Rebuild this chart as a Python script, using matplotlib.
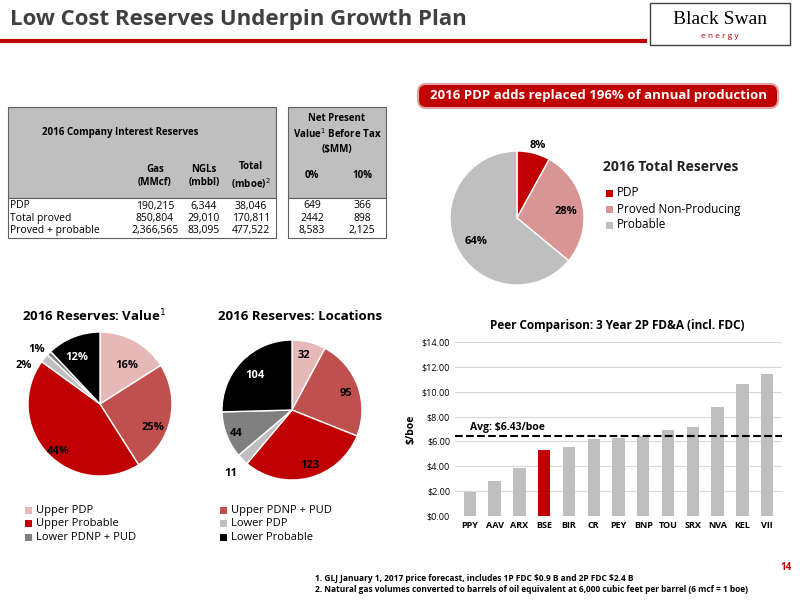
import matplotlib
matplotlib.use("Agg")
import matplotlib.pyplot as plt
from matplotlib.patches import Rectangle, FancyBboxPatch

plt.rcParams['font.family'] = ['Open Sans', 'DejaVu Sans']

total_labels = ["PDP", "Proved Non-Producing", "Probable"]
total_vals = [8, 28, 64]
total_colors = ["#C00000", "#D99594", "#BFBFBF"]

seg_labels = ["Upper PDP", "Upper PDNP + PUD", "Upper Probable", "Lower PDP", "Lower PDNP + PUD", "Lower Probable"]
seg_colors = ["#E6B9B8", "#C0504D", "#C00000", "#BFBFBF", "#808080", "#000000"]
value_vals = [16, 25, 44, 2, 1, 12]
loc_vals = [32, 95, 123, 11, 44, 104]

peers = ["PPY", "AAV", "ARX", "BSE", "BIR", "CR", "PEY", "BNP", "TOU", "SRX", "NVA", "KEL", "VII"]
fda = [1.9, 2.8, 3.9, 5.35, 5.55, 6.2, 6.3, 6.45, 6.95, 7.15, 8.75, 10.6, 11.45]
avg = 6.43

row_names = ["PDP", "Total proved", "Proved + probable"]
gas = ["190,215", "850,804", "2,366,565"]
ngl = ["6,344", "29,010", "83,095"]
tot = ["38,046", "170,811", "477,522"]
npv0 = ["649", "2442", "8,583"]
npv10 = ["366", "898", "2,125"]

W, H = 800, 600
fig = plt.figure(figsize=(8, 6), dpi=100)

def pie_px(cx, cy, r):
    return fig.add_axes([(cx - r) / W, 1 - (cy + r) / H, 2 * r / W, 2 * r / H])

def ax_px(x, y, w, h):
    return fig.add_axes([x / W, 1 - (y + h) / H, w / W, h / H])

ov = fig.add_axes([0, 0, 1, 1], zorder=10)
ov.patch.set_alpha(0)
ov.set_xlim(0, W); ov.set_ylim(H, 0); ov.axis("off")

# Title
ov.text(10, 20, "Low Cost Reserves Underpin Growth Plan", fontsize=16, fontweight="bold", color="#404040", va="center")
ov.plot([0, 645], [41, 41], color="#C00000", lw=3)
ov.add_patch(Rectangle((650, 3), 140, 42, fill=False, ec="#404040", lw=1))
ov.text(720, 19, "Black Swan", fontsize=14, ha="center", va="center", family=["Liberation Serif"])
ov.text(720, 36, "e n e r g y", fontsize=6, ha="center", va="center", color="#C00000")

# Banner
ov.add_patch(FancyBboxPatch((418, 84), 360, 24, boxstyle="round,pad=0,rounding_size=8", fc="#C00000", ec="#E0A0A0", lw=1.5))
ov.text(598, 96, "2016 PDP adds replaced 196% of annual production", color="white", fontweight="bold", fontsize=9.5, ha="center", va="center")

# Table
ov.add_patch(Rectangle((8, 107), 268, 91, fc="#BFBFBF", ec="#606060", lw=0.8))
ov.add_patch(Rectangle((288, 107), 98, 91, fc="#BFBFBF", ec="#606060", lw=0.8))
ov.add_patch(Rectangle((8, 198), 268, 40, fc="white", ec="#606060", lw=0.8))
ov.add_patch(Rectangle((288, 198), 98, 40, fc="white", ec="#606060", lw=0.8))
ov.text(120, 132, "2016 Company Interest Reserves", fontsize=7, fontweight="bold", ha="center", va="center")
ov.text(337, 134, "Net Present\nValue$^1$ Before Tax\n(\\$MM)", fontsize=7, fontweight="bold", ha="center", va="center", linespacing=1.3)
for x, t in [(155, "Gas\n(MMcf)"), (204, "NGLs\n(mbbl)"), (251, "Total\n(mboe)$^2$")]:
    ov.text(x, 176, t, fontsize=7, fontweight="bold", ha="center", va="center", linespacing=1.3)
ov.text(312, 176, "0%", fontsize=7, fontweight="bold", ha="center", va="center")
ov.text(362, 176, "10%", fontsize=7, fontweight="bold", ha="center", va="center")
for i in range(3):
    y = 206 + i * 12.5
    ov.text(10, y, row_names[i], fontsize=7.5, va="center")
    ov.text(155, y, gas[i], fontsize=7.5, ha="center", va="center")
    ov.text(204, y, ngl[i], fontsize=7.5, ha="center", va="center")
    ov.text(251, y, tot[i], fontsize=7.5, ha="center", va="center")
    ov.text(312, y, npv0[i], fontsize=7.5, ha="center", va="center")
    ov.text(362, y, npv10[i], fontsize=7.5, ha="center", va="center")

# Total reserves pie
a1 = pie_px(517, 218, 67)
a1.pie(total_vals, colors=total_colors, startangle=90, counterclock=False, radius=1,
       wedgeprops=dict(edgecolor="white", linewidth=1))
a1.set_xlim(-1, 1); a1.set_ylim(-1, 1)
ov.text(538, 146, "8%", fontsize=8, fontweight="bold", ha="center", va="center")
ov.text(566, 211, "28%", fontsize=8, fontweight="bold", ha="center", va="center")
ov.text(476, 241, "64%", fontsize=8, fontweight="bold", ha="center", va="center")
ov.text(603, 167, "2016 Total Reserves", fontsize=10, fontweight="bold", va="center", color="#202020")
for i, (l, c) in enumerate(zip(total_labels, total_colors)):
    y = 193 + i * 16
    ov.add_patch(Rectangle((606, y - 3.5), 7, 7, fc=c))
    ov.text(617, y, l, fontsize=8.5, va="center")

# Value pie
a2 = pie_px(100, 404, 72)
a2.pie(value_vals, colors=seg_colors, startangle=90, counterclock=False,
       wedgeprops=dict(edgecolor="white", linewidth=1))
a2.set_xlim(-1, 1); a2.set_ylim(-1, 1)
ov.text(22, 316, "2016 Reserves: Value$^1$", fontsize=9.5, fontweight="bold", va="center")
for (x, y, t) in [(127, 365, "16%"), (153, 428, "25%"), (58, 451, "44%"), (24, 366, "2%"), (37, 349, "1%"), (77, 358, "12%")]:
    ov.text(x, y, t, fontsize=8, fontweight="bold", ha="center", va="center", color="white" if t == "12%" else "black")

# Locations pie
a3 = pie_px(292, 410, 70)
a3.pie(loc_vals, colors=seg_colors, startangle=90, counterclock=False,
       wedgeprops=dict(edgecolor="white", linewidth=1))
a3.set_xlim(-1, 1); a3.set_ylim(-1, 1)
ov.text(218, 316, "2016 Reserves: Locations", fontsize=9.5, fontweight="bold", va="center")
for (x, y, t, c) in [(304, 355, "32", "black"), (346, 394, "95", "black"), (310, 466, "123", "black"),
                     (231, 474, "11", "black"), (236, 434, "44", "black"), (255, 376, "104", "white")]:
    ov.text(x, y, t, fontsize=8, fontweight="bold", ha="center", va="center", color=c)

for i, (l, c) in enumerate(zip(seg_labels, seg_colors)):
    col, row = i % 2, i // 2
    x = 25 + col * 195
    y = 510 + row * 13.5
    ov.add_patch(Rectangle((x, y - 3.5), 7, 7, fc=c))
    ov.text(x + 11, y, l, fontsize=8, va="center")

# Bar chart
ab = ax_px(455, 342, 327, 174)
bar_colors = ["#C00000" if p == "BSE" else "#BFBFBF" for p in peers]
ab.bar(range(len(peers)), fda, color=bar_colors, width=0.5, zorder=2)
ab.axhline(avg, color="black", ls="--", lw=1.5, zorder=3)
ab.text(0, avg + 0.25, "Avg: \\$6.43/boe", fontsize=7.5, fontweight="bold", va="bottom")
ab.set_ylim(0, 14)
ab.set_xlim(-0.6, len(peers) - 0.4)
ab.set_yticks(range(0, 15, 2))
ab.set_yticklabels([f"\\${v:.2f}" for v in range(0, 15, 2)], fontsize=6.5)
ab.set_xticks(range(len(peers)))
ab.set_xticklabels(peers, fontsize=6.5, fontweight="bold")
ab.grid(axis="y", color="#D9D9D9", lw=0.8, zorder=0)
for s in ab.spines.values():
    s.set_visible(False)
ab.tick_params(length=0)
ab.set_ylabel("\\$/boe", fontsize=7.5, fontweight="bold")
ov.text(617, 325, "Peer Comparison: 3 Year 2P FD&A (incl. FDC)", fontsize=8.5, fontweight="bold", ha="center", va="center")

# Footnotes
ov.text(315, 578, "1. GLJ January 1, 2017 price forecast, includes 1P FDC \\$0.9 B and 2P FDC \\$2.4 B", fontsize=6, fontweight="bold", va="center")
ov.text(315, 590, "2. Natural gas volumes converted to barrels of oil equivalent at 6,000 cubic feet per barrel (6 mcf = 1 boe)", fontsize=6, fontweight="bold", va="center")
ov.text(786, 568, "14", color="#C00000", fontsize=7, fontweight="bold", ha="center", va="center")

fig.savefig("out.png", dpi=100)
